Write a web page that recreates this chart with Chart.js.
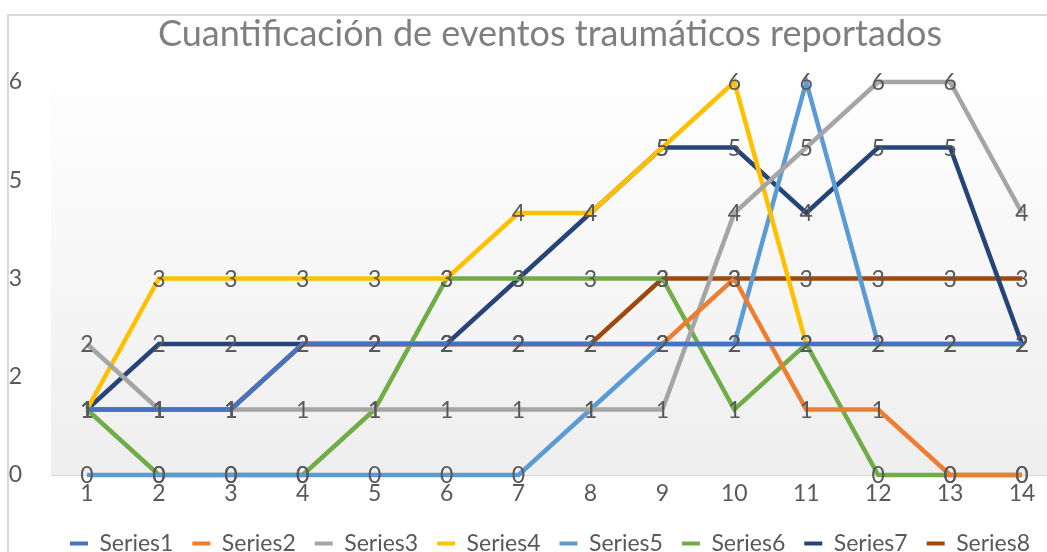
<!DOCTYPE html>
<html lang="es">
<head>
<meta charset="UTF-8">
<title>Cuantificación de eventos traumáticos reportados</title>
<script src="https://cdn.jsdelivr.net/npm/chart.js@4.4.0/dist/chart.umd.min.js"></script>
<style>
  body { margin: 0; padding: 0; background: #fff; overflow: hidden; }
  #wrap { position: absolute; left: 0; top: 0; width: 1100px; height: 552px; }
</style>
</head>
<body>
<div id="wrap"><canvas id="grafico" width="1100" height="552"></canvas></div>
<script>
const categorias = ['1','2','3','4','5','6','7','8','9','10','11','12','13','14'];
const serie1 = [1,1,1,2,2,2,2,2,2,2,2,2,2,2];
const serie2 = [1,1,1,2,2,2,2,2,2,3,1,1,0,0];
const serie3 = [2,1,1,1,1,1,1,1,1,4,5,6,6,4];
const serie4 = [1,3,3,3,3,3,4,4,5,6,2,2,2,2];
const serie5 = [0,0,0,0,0,0,0,1,2,2,6,2,2,2];
const serie6 = [1,0,0,0,1,3,3,3,3,1,2,0,0,0];
const serie7 = [1,2,2,2,2,2,3,4,5,5,4,5,5,2];
const serie8 = [1,1,1,2,2,2,2,2,3,3,3,3,3,3];
const ticksY = [0, 1.5, 3, 4.5, 6];

const nombres = ['Series1','Series2','Series3','Series4','Series5','Series6','Series7','Series8'];
const colores = ['#4472C4','#ED7D31','#A5A5A5','#FFC000','#5B9BD5','#70AD47','#264478','#9E480E'];
const valores = [serie1, serie2, serie3, serie4, serie5, serie6, serie7, serie8];

const gris = '#595959';
const fuente = 'Lato, "DejaVu Sans", sans-serif';

// fondo degradado del area de trazado y borde del grafico
const fondo = {
  id: 'fondo',
  beforeDraw(chart) {
    const {ctx, chartArea: a} = chart;
    ctx.save();
    ctx.fillStyle = '#ffffff';
    ctx.fillRect(0, 0, chart.width, chart.height);
    const g = ctx.createLinearGradient(0, a.top - 20, 0, a.bottom);
    g.addColorStop(0, '#ffffff');
    g.addColorStop(1, '#eeeeee');
    ctx.fillStyle = g;
    ctx.fillRect(a.left, a.top - 20, a.right - a.left, a.bottom - a.top + 20);
    ctx.strokeStyle = '#d9d9d9';
    ctx.lineWidth = 2;
    ctx.strokeRect(8, 15, chart.width, chart.height + 20);
    ctx.restore();
  }
};

// etiquetas de datos encima de cada punto
const etiquetas = {
  id: 'etiquetas',
  afterDatasetsDraw(chart) {
    const ctx = chart.ctx;
    ctx.save();
    ctx.font = '23px ' + fuente;
    ctx.fillStyle = gris;
    ctx.textAlign = 'center';
    ctx.textBaseline = 'middle';
    for (let d = chart.data.datasets.length - 1; d >= 0; d--) {
      const meta = chart.getDatasetMeta(d);
      meta.data.forEach((p, i) => {
        const v = chart.data.datasets[d].data[i];
        if (v === null) return;
        ctx.fillText(String(v), p.x, p.y + 1);
      });
    }
    ctx.restore();
  }
};

new Chart(document.getElementById('grafico'), {
  type: 'line',
  data: {
    labels: categorias,
    datasets: valores.map((serie, k) => ({
      label: nombres[k],
      data: serie,
      borderColor: colores[k],
      backgroundColor: colores[k],
      borderWidth: 4.5,
      pointRadius: 0,
      tension: 0,
      clip: false
    }))
  },
  options: {
    responsive: false,
    animation: false,
    layout: { padding: { left: 0, right: 0, top: 0, bottom: -13 } },
    scales: {
      x: {
        type: 'category',
        offset: true,
        grid: { display: false, drawTicks: false },
        border: { display: true, color: '#d9d9d9', width: 1 },
        ticks: { color: gris, font: { family: fuente, size: 23 }, padding: 5, autoSkip: false, maxRotation: 0 },
        afterFit(s) { s.height = 38; }
      },
      y: {
        min: 0,
        max: 6,
        grid: { display: false, drawTicks: false },
        border: { display: false },
        afterBuildTicks(s) { s.ticks = ticksY.map(v => ({ value: v })); },
        ticks: {
          color: gris,
          font: { family: fuente, size: 23 },
          crossAlign: 'near',
          padding: 29,
          callback: v => String(Math.round(v))
        },
        afterFit(s) { s.width = 51; }
      },
      y2: {
        position: 'right',
        min: 0,
        max: 6,
        grid: { display: false, drawTicks: false },
        border: { display: false },
        ticks: { display: false },
        afterFit(s) { s.width = 42; }
      }
    },
    plugins: {
      title: {
        display: true,
        text: 'Cuantificación de eventos traumáticos reportados',
        color: '#7f7f7f',
        font: { family: fuente, size: 36, weight: 'normal' },
        padding: { top: 12.4, bottom: 26.4 }
      },
      legend: {
        position: 'bottom',
        labels: {
          color: gris,
          font: { family: fuente, size: 23 },
          boxWidth: 18,
          boxHeight: 4,
          padding: 19,
          generateLabels(chart) {
            return chart.data.datasets.map((ds, i) => ({
              text: ds.label,
              fillStyle: ds.borderColor,
              strokeStyle: ds.borderColor,
              lineWidth: 0,
              fontColor: gris,
              datasetIndex: i,
              hidden: false
            }));
          }
        }
      },
      tooltip: { enabled: false }
    }
  },
  plugins: [fondo, etiquetas]
});
</script>
</body>
</html>
